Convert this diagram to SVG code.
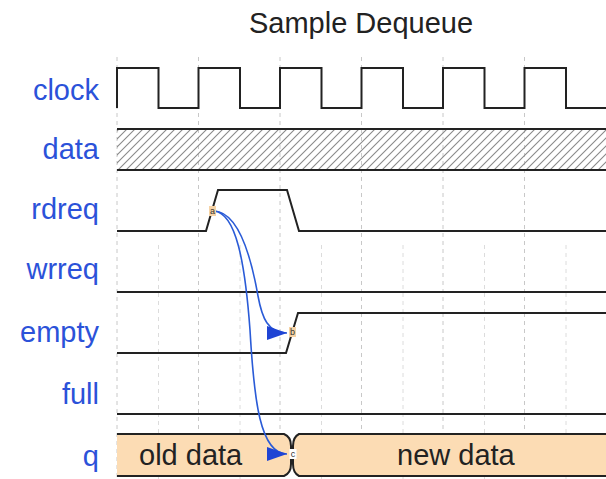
<svg xmlns="http://www.w3.org/2000/svg" width="606" height="479" viewBox="0 0 606 479">
  <style>
    .title { font-family: "Liberation Sans", Arial, sans-serif; font-size: 29px; fill: #222; }
    .lbl { font-family: "Liberation Sans", Arial, sans-serif; font-size: 29px; fill: #2b52d9; text-anchor: end; }
    .val { font-family: "Liberation Sans", Arial, sans-serif; font-size: 29px; fill: #222; }
    .tag { font-family: "Liberation Sans", Arial, sans-serif; font-size: 9px; fill: #333; text-anchor: middle; }
    .tagbox { fill: #f6d3a6; }
    .wave { fill: none; stroke: #222; stroke-width: 2; stroke-linejoin: miter; }
    .bus { fill: #fcdcb4; stroke: none; }
    .grid { stroke: #c8c8c8; stroke-width: 1; stroke-dasharray: 4 4; }
    .grid2 { stroke: #dcdcdc; stroke-width: 1; stroke-dasharray: 4 4; }
    .edge { fill: none; stroke: #2a5bd7; stroke-width: 1.6; }
  </style>
  <defs>
    <pattern id="hatch" patternUnits="userSpaceOnUse" width="8" height="8">
      <path d="M-2,2 L2,-2 M0,8 L8,0 M6,10 L10,6" stroke="#8a8a8a" stroke-width="1.1"/>
    </pattern>
    <marker id="arrow" markerUnits="userSpaceOnUse" markerWidth="22" markerHeight="14" refX="20" refY="7" orient="auto">
      <path d="M0,0 L20,7 L0,14 Z" fill="#1f44d4"/>
    </marker>
  </defs>

  <text class="title" x="361" y="33" text-anchor="middle">Sample Dequeue</text>

  <!-- time grid: full periods and half periods -->
  <g id="grid">
    <line class="grid" x1="117" y1="57" x2="117" y2="479"/>
    <line class="grid" x1="198.5" y1="57" x2="198.5" y2="479"/>
    <line class="grid" x1="280" y1="57" x2="280" y2="479"/>
    <line class="grid" x1="361.5" y1="57" x2="361.5" y2="479"/>
    <line class="grid" x1="443" y1="57" x2="443" y2="479"/>
    <line class="grid" x1="524.5" y1="57" x2="524.5" y2="479"/>
    <line class="grid2" x1="158.5" y1="245" x2="158.5" y2="479"/>
    <line class="grid2" x1="240" y1="245" x2="240" y2="479"/>
    <line class="grid2" x1="321.5" y1="245" x2="321.5" y2="479"/>
    <line class="grid2" x1="403" y1="245" x2="403" y2="479"/>
    <line class="grid2" x1="484.5" y1="245" x2="484.5" y2="479"/>
    <line class="grid2" x1="566" y1="245" x2="566" y2="479"/>
  </g>

  <g id="clock">
    <text class="lbl" x="99" y="100">clock</text>
    <path class="wave" d="M117,108 V68 H158.5 V108 H198.5 V68 H240 V108 H280 V68 H321.5 V108 H361.5 V68 H403 V108 H443 V68 H484.5 V108 H524.5 V68 H566 V108 H606"/>
  </g>

  <g id="data">
    <text class="lbl" x="99" y="159">data</text>
    <rect x="117" y="129" width="489" height="41" fill="url(#hatch)"/>
    <path class="wave" d="M117,129 H606 M117,170 H606"/>
  </g>

  <g id="rdreq">
    <text class="lbl" x="99" y="219">rdreq</text>
    <path class="wave" d="M117,231 H206 L218,190 H287 L299,231 H606"/>
  </g>

  <g id="wrreq">
    <text class="lbl" x="99" y="279">wrreq</text>
    <path class="wave" d="M117,292 H606"/>
  </g>

  <g id="empty">
    <text class="lbl" x="99" y="342">empty</text>
    <path class="wave" d="M117,353 H286 L298,313 H606"/>
  </g>

  <g id="full">
    <text class="lbl" x="99" y="404">full</text>
    <path class="wave" d="M117,414 H606"/>
  </g>

  <g id="q">
    <text class="lbl" x="99" y="466">q</text>
    <path class="bus" d="M117,434 H284 C289,436 291,441 291,446 V464 C291,469 289,474 284,476 H117 Z"/>
    <path class="bus" d="M606,434 H299 C295,436 293,441 293,446 V464 C293,469 295,474 299,476 H606 Z"/>
    <path class="wave" d="M117,434 H284 C289,436 291,441 291,446 V464 C291,469 289,474 284,476 H117"/>
    <path class="wave" d="M606,434 H299 C295,436 293,441 293,446 V464 C293,469 295,474 299,476 H606"/>
    <text class="val" x="139" y="465">old data</text>
    <text class="val" x="397" y="465">new data</text>
  </g>

  <!-- causality edges from rdreq rising edge -->
  <g id="connectors">
    <path class="edge" marker-end="url(#arrow)" d="M214,211 C240,212 252,262 258,296 C262,318 268,333 287,333"/>
    <path class="edge" marker-end="url(#arrow)" d="M214,211 C236,213 245,262 250,330 C254,400 260,454 287,454"/>
  </g>

  <!-- event tags -->
  <g id="tags">
    <rect class="tagbox" x="209" y="206" width="7" height="10"/>
    <text class="tag" x="212.5" y="214">a</text>
    <rect class="tagbox" x="289" y="327" width="7" height="10"/>
    <text class="tag" x="292.5" y="335">b</text>
    <rect x="289.5" y="449" width="7" height="10" fill="#fff"/>
    <text class="tag" x="293" y="457">c</text>
  </g>
</svg>
